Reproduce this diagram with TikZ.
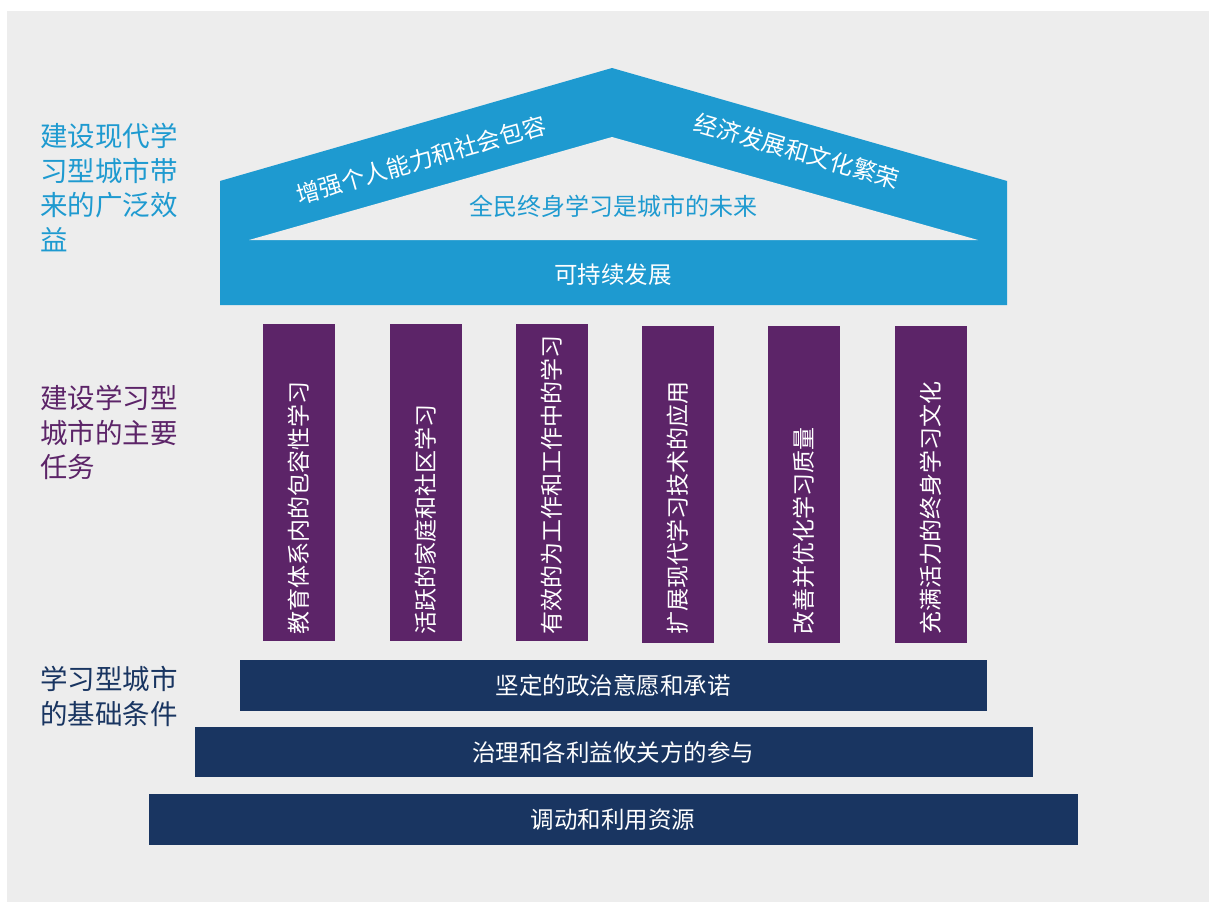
\documentclass[tikz,border=0pt]{standalone}
\usepackage{fontspec}
\newfontfamily\cjk{Noto Sans CJK SC}
\definecolor{roofblue}{RGB}{30,154,208}
\definecolor{pillarc}{RGB}{92,36,104}
\definecolor{navyc}{RGB}{25,53,97}
\definecolor{bgc}{RGB}{237,237,237}
\tikzset{
  pillarbox/.style={fill=pillarc,draw=none},
  barbox/.style={fill=navyc,draw=none},
  pillartext/.style={text=white,font=\cjk\fontsize{23}{27}\selectfont,rotate=90,anchor=west,inner sep=0pt},
  whitetext/.style={text=white,font=\cjk\fontsize{23.5}{27}\selectfont,inner sep=0pt},
  sidelabel/.style={font=\cjk\fontsize{27.5}{34.5}\selectfont,align=left,anchor=north west,inner sep=0pt}
}
\begin{document}
\begin{tikzpicture}[x=1pt,y=-1pt]
\useasboundingbox (0,0) rectangle (1209,902);
\fill[bgc] (7,11) rectangle (1209,902);
% roof
\fill[roofblue] (220,181) -- (612,68) -- (1007,181) -- (1007,305) -- (220,305) -- cycle;
\fill[bgc] (249,240) -- (612,137) -- (978,240) -- cycle;
\node[whitetext,rotate=16] (roofl) at (421,160) {增强个人能力和社会包容};
\node[whitetext,rotate=-16] (roofr) at (797,151) {经济发展和文化繁荣};
\node[whitetext,text=roofblue,font=\cjk\fontsize{24}{28}\selectfont] (roofm) at (613,206) {全民终身学习是城市的未来};
\node[whitetext] (sust) at (613,275) {可持续发展};
% pillars
\foreach \cx/\top/\bot/\txt/\nm in {
  299/324/641/教育体系内的包容性学习/p1,
  425.5/324/641/活跃的家庭和社区学习/p2,
  551.5/324/641/有效的为工作和工作中的学习/p3,
  677.5/326/643/扩展现代学习技术的应用/p4,
  804/326/643/改善并优化学习质量/p5,
  931/326/643/充满活力的终身学习文化/p6}{
  \fill[pillarbox] (\cx-36,\top) rectangle (\cx+36,\bot);
  \node[pillartext] (\nm) at (\cx,635) {\txt};
}
% bars
\fill[barbox] (240,660) rectangle (987,711);
\node[whitetext] (b1) at (613,686) {坚定的政治意愿和承诺};
\fill[barbox] (195,727) rectangle (1033,777);
\node[whitetext] (b2) at (613,753) {治理和各利益攸关方的参与};
\fill[barbox] (149,794) rectangle (1078,845);
\node[whitetext] (b3) at (613,820) {调动和利用资源};
% side labels
\node[sidelabel,text=roofblue] (l1) at (40,123) {建设现代学\\习型城市带\\来的广泛效\\益};
\node[sidelabel,text=pillarc] (l2) at (40,385) {建设学习型\\城市的主要\\任务};
\node[sidelabel,text=navyc] (l3) at (40,666) {学习型城市\\的基础条件};
\end{tikzpicture}
\end{document}
